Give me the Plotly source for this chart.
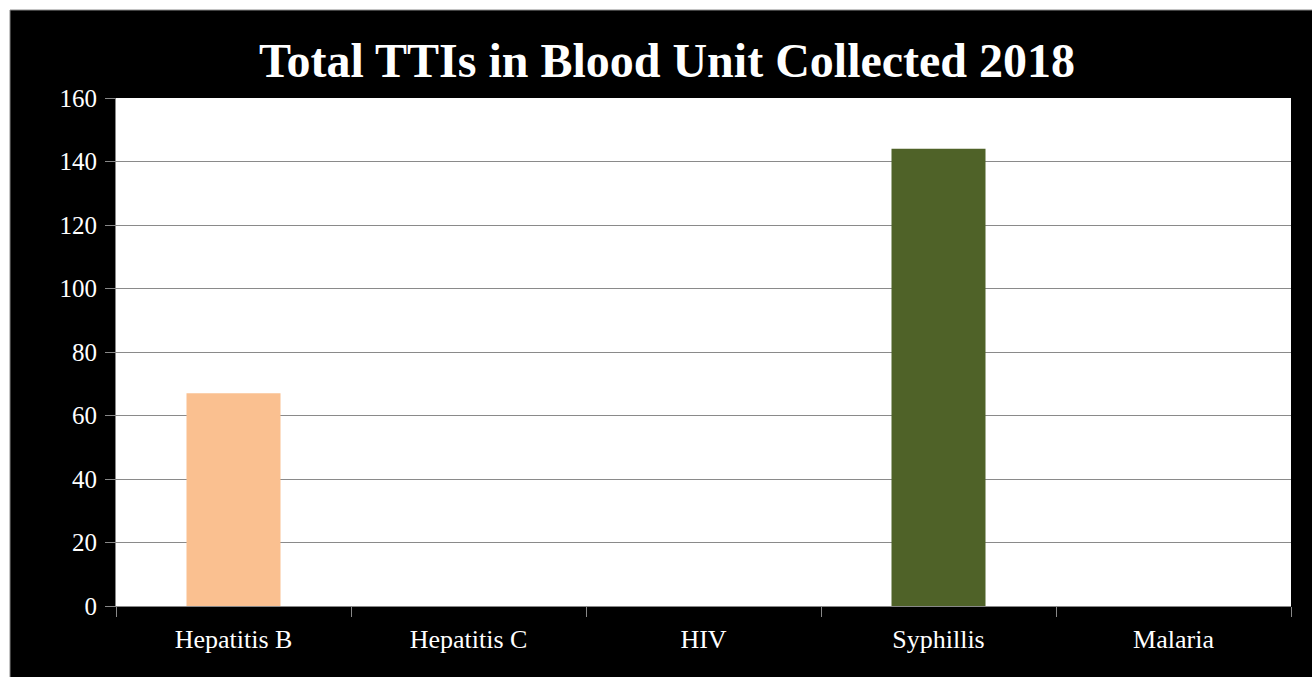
import plotly.graph_objects as go

categories = ["Hepatitis B", "Hepatitis C", "HIV", "Syphillis", "Malaria"]
values = [67, 0, 0, 144, 0]
bar_colors = ["#FAC090", "#FAC090", "#FAC090", "#4F6228", "#4F6228"]
y_ticks = [0, 20, 40, 60, 80, 100, 120, 140, 160]

W, H = 1312, 677
L, R, T, B = 116, 21, 98, 71
pw, ph = W - L - R, H - T - B

def px_x(p):
    return (p - L) / pw

def px_y(p):
    return (H - B - p) / ph

fig = go.Figure()
fig.add_trace(go.Bar(
    x=categories, y=values,
    marker=dict(color=bar_colors, line=dict(width=0)),
    width=0.4,
    showlegend=False,
    hoverinfo="x+y",
))

font_family = "Liberation Serif, Times New Roman, serif"

fig.update_layout(
    width=W, height=H,
    margin=dict(l=L, r=R, t=T, b=B),
    paper_bgcolor="white",
    plot_bgcolor="white",
    title=dict(
        text="<b>Total TTIs in Blood Unit Collected 2018</b>",
        x=667 / W, xanchor="center", xref="container",
        y=1 - 60 / H, yanchor="middle", yref="container",
        font=dict(family=font_family, size=48, color="white"),
    ),
    font=dict(family=font_family, size=25, color="white"),
    xaxis=dict(
        type="category",
        tickson="boundaries",
        ticks="outside", ticklen=10, tickcolor="#888888", tickwidth=1,
        showline=True, linecolor="#888888", linewidth=1,
        showgrid=False,
        tickfont=dict(family=font_family, size=26, color="white"),
        ticklabelstandoff=10,
        fixedrange=True,
    ),
    yaxis=dict(
        range=[0, 160],
        tickvals=y_ticks,
        ticks="outside", ticklen=10, tickcolor="#888888", tickwidth=1,
        showline=True, linecolor="#888888", linewidth=1,
        showgrid=True, gridcolor="#8a8a8a", gridwidth=1,
        zeroline=False,
        tickfont=dict(family=font_family, size=25, color="white"),
        ticklabelstandoff=3,
        fixedrange=True,
    ),
    shapes=[
        dict(type="rect", xref="paper", yref="paper", layer="below",
             x0=px_x(10), x1=px_x(W + 20), y0=px_y(H + 20), y1=px_y(10),
             fillcolor="black", line=dict(color="#888888", width=1)),
        dict(type="rect", xref="paper", yref="paper", layer="below",
             x0=0, x1=1, y0=0, y1=1,
             fillcolor="white", line=dict(width=0)),
    ],
)

fig.write_html("out.html", config={"displayModeBar": False},
               post_script="document.body.style.margin='0';")
